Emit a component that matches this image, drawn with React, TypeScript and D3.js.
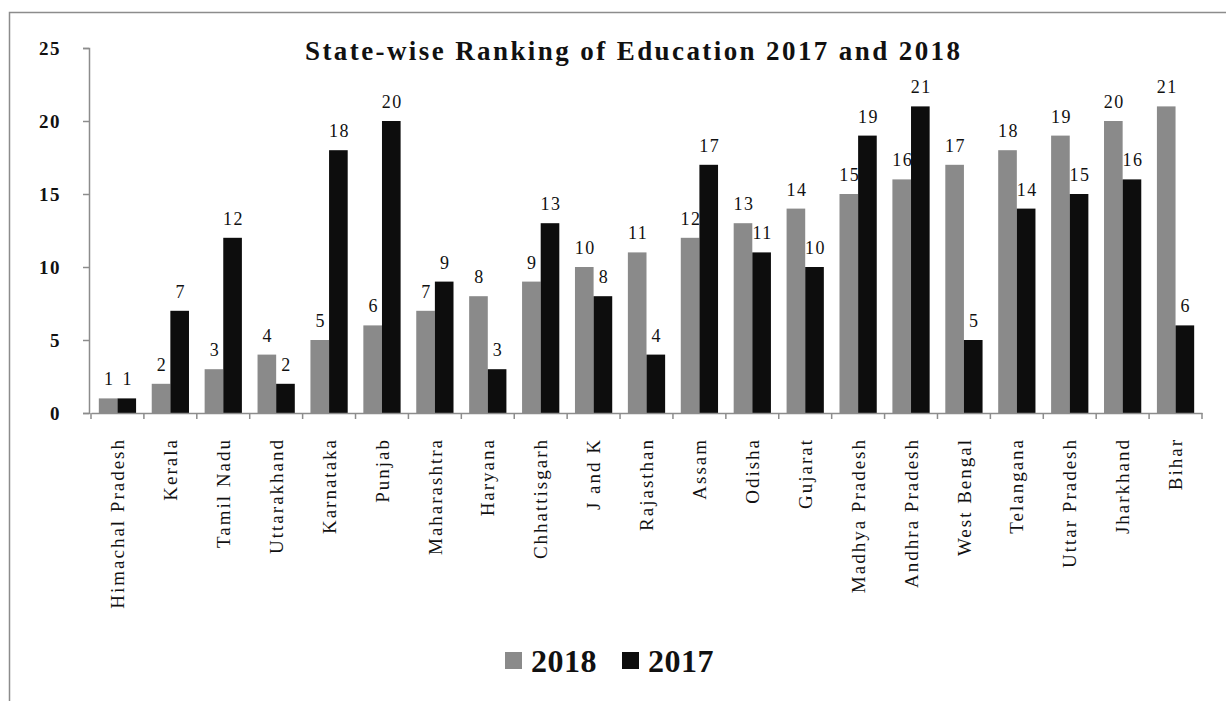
import { useEffect, useRef } from 'react';
import * as d3 from 'd3';

// Data
const states = [
  'Himachal Pradesh', 'Kerala', 'Tamil Nadu', 'Uttarakhand', 'Karnataka', 'Punjab',
  'Maharashtra', 'Haryana', 'Chhattisgarh', 'J and K', 'Rajasthan', 'Assam', 'Odisha',
  'Gujarat', 'Madhya Pradesh', 'Andhra Pradesh', 'West Bengal', 'Telangana',
  'Uttar Pradesh', 'Jharkhand', 'Bihar',
];
const rank2018 = [1, 2, 3, 4, 5, 6, 7, 8, 9, 10, 11, 12, 13, 14, 15, 16, 17, 18, 19, 20, 21];
const rank2017 = [1, 7, 12, 2, 18, 20, 9, 3, 13, 8, 4, 17, 11, 10, 19, 21, 5, 14, 15, 16, 6];
const seriesNames = ['2018', '2017'];
const yTicks = [0, 5, 10, 15, 20, 25];

const WIDTH = 1226;
const HEIGHT = 701;
const FONT = '"Liberation Serif", "Times New Roman", serif';
const COLORS = ['#8a8a8a', '#0d0d0d'];

export default function App() {
  const svgRef = useRef<SVGSVGElement>(null);

  useEffect(() => {
    if (!svgRef.current) return;
    const svg = d3.select(svgRef.current);
    svg.selectAll('*').remove();

    // outer frame
    svg.append('rect')
      .attr('x', 9.5).attr('y', 12.5)
      .attr('width', 1240).attr('height', 720)
      .attr('fill', 'white').attr('stroke', '#8c8c8c').attr('stroke-width', 1.5);

    const x0 = d3.scaleBand<string>().domain(states).range([91, 1202]).paddingInner(0).paddingOuter(0);
    const x1 = d3.scaleBand<string>().domain(seriesNames)
      .range([0, x0.bandwidth()]).paddingInner(0).paddingOuter(0.42);
    const y = d3.scaleLinear().domain([0, 25]).range([413, 48]);

    // bars
    const groups = svg.append('g').selectAll('g')
      .data(states)
      .enter()
      .append('g')
      .attr('transform', (d) => `translate(${x0(d)},0)`);

    const rows = (i: number) => [
      { key: '2018', value: rank2018[i] },
      { key: '2017', value: rank2017[i] },
    ];

    groups.selectAll('rect')
      .data((_, i) => rows(i))
      .enter()
      .append('rect')
      .attr('x', (d) => x1(d.key)!)
      .attr('y', (d) => y(d.value))
      .attr('width', x1.bandwidth())
      .attr('height', (d) => y(0) - y(d.value))
      .attr('fill', (d, i) => COLORS[i]);

    groups.selectAll('text')
      .data((_, i) => rows(i))
      .enter()
      .append('text')
      .attr('x', (d) => x1(d.key)! + x1.bandwidth() / 2 + 1)
      .attr('y', (d) => y(d.value) - 13)
      .attr('text-anchor', 'middle')
      .attr('font-family', FONT)
      .attr('font-size', 18)
      .attr('letter-spacing', 1.5)
      .attr('fill', '#111')
      .text((d) => d.value);

    // y axis
    const yAxis = svg.append('g')
      .attr('transform', 'translate(89,0)')
      .call(d3.axisLeft(y).tickValues(yTicks).tickSize(6).tickSizeOuter(6).tickPadding(22));
    yAxis.select('.domain').attr('stroke', '#8c8c8c').attr('stroke-width', 1.5);
    yAxis.selectAll('.tick line').attr('stroke', '#8c8c8c').attr('stroke-width', 1.5);
    yAxis.selectAll('.tick text')
      .attr('font-family', FONT).attr('font-size', 19).attr('font-weight', 'bold')
      .attr('letter-spacing', 1.5).attr('fill', '#111');

    // x axis
    const xAxis = svg.append('g')
      .attr('transform', `translate(0,${y(0)})`)
      .call(d3.axisBottom(x0).tickSize(0).tickSizeOuter(0));
    xAxis.select('.domain').attr('stroke', '#8c8c8c').attr('stroke-width', 1.5);
    xAxis.selectAll('.tick text')
      .attr('font-family', FONT).attr('font-size', 19).attr('letter-spacing', 2)
      .attr('fill', '#111')
      .attr('transform', 'rotate(-90)')
      .attr('text-anchor', 'end')
      .attr('x', -25).attr('y', 0).attr('dy', '0.35em');
    // tick marks at band boundaries
    const bounds = states.map((s) => x0(s)!).concat([x0.range()[1]]);
    xAxis.selectAll('.bound')
      .data(bounds)
      .enter()
      .append('line')
      .attr('class', 'bound')
      .attr('x1', (d) => d).attr('x2', (d) => d)
      .attr('y1', 0).attr('y2', 6)
      .attr('stroke', '#8c8c8c').attr('stroke-width', 1.5);

    // title
    svg.append('text')
      .attr('x', 305).attr('y', 60)
      .attr('font-family', FONT).attr('font-size', 27).attr('font-weight', 'bold')
      .attr('textLength', 655).attr('lengthAdjust', 'spacing')
      .attr('fill', '#111')
      .text('State-wise Ranking of Education 2017 and 2018');

    // legend
    const legend = svg.append('g').attr('transform', 'translate(505,652)');
    const legendX = [0, 117];
    seriesNames.forEach((name, i) => {
      legend.append('rect')
        .attr('x', legendX[i]).attr('y', 0)
        .attr('width', 17).attr('height', 17)
        .attr('fill', COLORS[i]);
      legend.append('text')
        .attr('x', legendX[i] + 26).attr('y', 20)
        .attr('font-family', FONT).attr('font-size', 32).attr('font-weight', 'bold')
        .attr('letter-spacing', 0.5)
        .attr('fill', '#111')
        .text(name);
    });
  }, []);

  return (
    <svg
      ref={svgRef}
      width={WIDTH}
      height={HEIGHT}
      style={{ position: 'absolute', left: 0, top: 0, background: 'white' }}
    />
  );
}
